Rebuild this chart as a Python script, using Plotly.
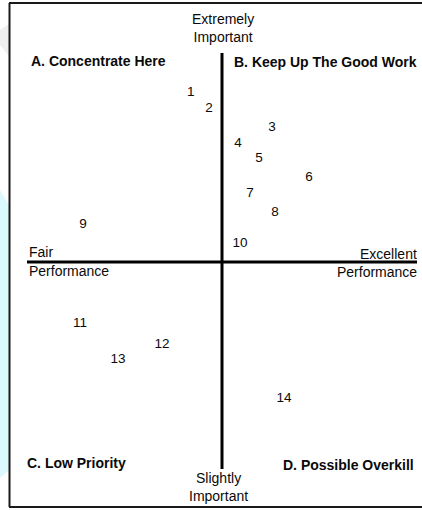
import plotly.graph_objects as go

W, H = 422, 510

# ---- data: performance (x) vs importance (y), axis half-length = 10
labels = ["1", "2", "3", "4", "5", "6", "7", "8", "9", "10", "11", "12", "13", "14"]
performance = [-1.6, -0.67, 2.56, 0.82, 1.9, 4.46, 1.44, 2.72, -7.13, 0.92, -7.28, -3.08, -5.33, 3.18]
importance = [8.2, 7.4, 6.5, 5.7, 5.0, 4.1, 3.3, 2.4, 1.8, 0.9, -3.0, -4.0, -4.7, -6.6]

quadrant_labels = ["A. Concentrate Here", "B. Keep Up The Good Work",
                   "C. Low Priority", "D. Possible Overkill"]

# ---- geometry
ox, oy = 222, 262          # pixel of origin
sx, sy = 19.5, 20.7        # pixels per unit
xr = [-ox / sx, (W - ox) / sx]
yr = [-(H - oy) / sy, oy / sy]

def px(x):
    return x / W

def py(y):
    return 1 - y / H

FONT = "Liberation Sans, Arial, Helvetica, sans-serif"
FS_NUM = 13.5
FS = 14
INK = "#0a0a0a"

fig = go.Figure()

fig.add_trace(go.Scatter(
    x=performance, y=importance, text=labels, mode="text",
    textposition="middle center",
    textfont=dict(family=FONT, size=FS_NUM, color=INK),
    hoverinfo="skip", showlegend=False,
))

shapes = [
    # watermark artefacts on the left edge
    dict(type="path", xref="paper", yref="paper",
         path=f"M 0 {py(190)} L {px(9)} {py(205)} L {px(9)} {py(470)} L 0 {py(478)} Z",
         fillcolor="#dcf9fd", line=dict(width=0), layer="below"),
    dict(type="path", xref="paper", yref="paper",
         path=f"M 0 {py(30)} L {px(9)} {py(24)} L {px(9)} {py(56)} L 0 {py(45)} Z",
         fillcolor="#efefef", line=dict(width=0), layer="below"),
    # frame (top, left, bottom)
    dict(type="line", xref="paper", yref="paper", x0=px(9), x1=1.0, y0=py(3), y1=py(3),
         line=dict(color="#1a1a1a", width=2)),
    dict(type="line", xref="paper", yref="paper", x0=px(9.5), x1=px(9.5), y0=py(3), y1=py(507),
         line=dict(color="#1a1a1a", width=2)),
    dict(type="line", xref="paper", yref="paper", x0=px(9), x1=1.0, y0=py(507), y1=py(507),
         line=dict(color="#1a1a1a", width=2)),
    # axes
    dict(type="line", xref="x", yref="y", x0=-10, x1=10, y0=0, y1=0,
         line=dict(color="#000000", width=3)),
    dict(type="line", xref="x", yref="y", x0=0, x1=0, y0=-10, y1=10.1,
         line=dict(color="#000000", width=3)),
]

def ann(text, x, y, xa="left", bold=False):
    return dict(text=f"<b>{text}</b>" if bold else text, xref="paper", yref="paper",
                x=px(x), y=py(y), xanchor=xa, yanchor="middle", showarrow=False,
                font=dict(family=FONT, size=FS, color=INK), align="center")

annotations = [
    ann("Extremely<br>Important", 223, 27.5, "center"),
    ann("Slightly<br>Important", 218, 486.5, "center"),
    ann(quadrant_labels[0], 29, 61, "left", True),
    ann(quadrant_labels[1], 232, 62, "left", True),
    ann(quadrant_labels[2], 25, 463, "left", True),
    ann(quadrant_labels[3], 416, 465, "right", True),
    ann("Fair", 27, 252, "left"),
    ann("Performance", 27, 271, "left"),
    ann("Excellent", 419, 254, "right"),
    ann("Performance", 419, 272, "right"),
]

fig.update_layout(
    width=W, height=H,
    margin=dict(l=0, r=0, t=0, b=0),
    paper_bgcolor="white", plot_bgcolor="white",
    xaxis=dict(range=xr, visible=False, fixedrange=True),
    yaxis=dict(range=yr, visible=False, fixedrange=True),
    shapes=shapes, annotations=annotations,
    showlegend=False,
)

fig.write_html(
    "out.html",
    config={"displayModeBar": False},
    post_script="document.body.style.margin='0';document.body.style.overflow='hidden';",
)
